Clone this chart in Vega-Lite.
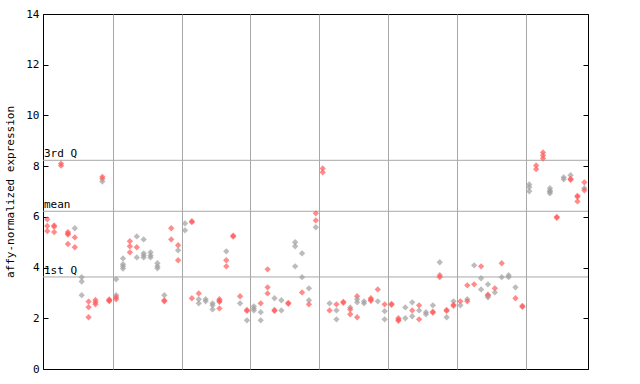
{
  "$schema": "https://vega.github.io/schema/vega-lite/v6.json",
  "width": 545,
  "height": 355,
  "autosize": {"type": "none"},
  "padding": {"left": 43, "top": 14, "right": 52, "bottom": 15},
  "background": "white",
  "config": {
    "view": {"stroke": "black", "strokeWidth": 1},
    "axis": {"labelFont": "DejaVu Sans Mono", "titleFont": "DejaVu Sans Mono", "labelColor": "black", "titleColor": "black", "tickColor": "black"}
  },
  "datasets": {
    "pts": [
      {"i":0,"v":5.90,"c":"r"},{"i":0,"v":5.64,"c":"r"},{"i":0,"v":5.44,"c":"r"},
      {"i":1,"v":5.66,"c":"r"},{"i":1,"v":5.61,"c":"r"},{"i":1,"v":5.40,"c":"r"},
      {"i":2,"v":8.10,"c":"r"},{"i":2,"v":8.02,"c":"r"},
      {"i":3,"v":5.40,"c":"r"},{"i":3,"v":5.34,"c":"r"},{"i":3,"v":5.30,"c":"r"},{"i":3,"v":4.93,"c":"r"},
      {"i":4,"v":5.55,"c":"g"},{"i":4,"v":5.19,"c":"r"},{"i":4,"v":4.80,"c":"r"},
      {"i":5,"v":3.62,"c":"g"},{"i":5,"v":3.45,"c":"g"},{"i":5,"v":2.91,"c":"g"},
      {"i":6,"v":2.66,"c":"r"},{"i":6,"v":2.44,"c":"r"},{"i":6,"v":2.04,"c":"r"},
      {"i":7,"v":2.72,"c":"r"},{"i":7,"v":2.63,"c":"r"},{"i":7,"v":2.55,"c":"r"},
      {"i":8,"v":7.58,"c":"r"},{"i":8,"v":7.50,"c":"r"},{"i":8,"v":7.39,"c":"g"},
      {"i":9,"v":2.74,"c":"r"},{"i":9,"v":2.68,"c":"r"},{"i":9,"v":2.70,"c":"r"},
      {"i":10,"v":3.54,"c":"g"},{"i":10,"v":2.91,"c":"g"},{"i":10,"v":2.83,"c":"r"},{"i":10,"v":2.75,"c":"r"},
      {"i":11,"v":4.36,"c":"g"},{"i":11,"v":4.13,"c":"g"},{"i":11,"v":4.05,"c":"g"},{"i":11,"v":3.96,"c":"g"},
      {"i":12,"v":5.04,"c":"r"},{"i":12,"v":4.84,"c":"r"},{"i":12,"v":4.60,"c":"r"},
      {"i":13,"v":5.23,"c":"g"},{"i":13,"v":4.80,"c":"r"},{"i":13,"v":4.40,"c":"g"},
      {"i":14,"v":5.11,"c":"g"},{"i":14,"v":4.56,"c":"g"},{"i":14,"v":4.48,"c":"g"},{"i":14,"v":4.40,"c":"g"},
      {"i":15,"v":4.60,"c":"g"},{"i":15,"v":4.48,"c":"g"},{"i":15,"v":4.40,"c":"g"},
      {"i":16,"v":4.17,"c":"g"},{"i":16,"v":4.05,"c":"g"},{"i":16,"v":3.97,"c":"g"},
      {"i":17,"v":2.91,"c":"g"},{"i":17,"v":2.71,"c":"r"},{"i":17,"v":2.67,"c":"r"},
      {"i":18,"v":5.55,"c":"r"},{"i":18,"v":5.11,"c":"r"},
      {"i":19,"v":4.88,"c":"r"},{"i":19,"v":4.68,"c":"g"},{"i":19,"v":4.29,"c":"r"},
      {"i":20,"v":5.74,"c":"g"},{"i":20,"v":5.47,"c":"g"},
      {"i":21,"v":5.83,"c":"r"},{"i":21,"v":5.79,"c":"r"},{"i":21,"v":2.79,"c":"r"},
      {"i":22,"v":2.98,"c":"r"},{"i":22,"v":2.75,"c":"g"},{"i":22,"v":2.59,"c":"g"},
      {"i":23,"v":2.75,"c":"g"},{"i":23,"v":2.67,"c":"g"},
      {"i":24,"v":2.59,"c":"g"},{"i":24,"v":2.51,"c":"g"},{"i":24,"v":2.35,"c":"g"},
      {"i":25,"v":2.75,"c":"r"},{"i":25,"v":2.69,"c":"r"},{"i":25,"v":2.65,"c":"r"},{"i":25,"v":2.39,"c":"r"},
      {"i":26,"v":4.64,"c":"g"},{"i":26,"v":4.29,"c":"r"},{"i":26,"v":4.05,"c":"r"},
      {"i":27,"v":5.26,"c":"r"},{"i":27,"v":5.22,"c":"r"},
      {"i":28,"v":2.87,"c":"r"},{"i":28,"v":2.59,"c":"g"},
      {"i":29,"v":2.33,"c":"r"},{"i":29,"v":2.29,"c":"r"},{"i":29,"v":1.92,"c":"g"},
      {"i":30,"v":2.47,"c":"g"},{"i":30,"v":2.39,"c":"g"},{"i":30,"v":2.31,"c":"g"},
      {"i":31,"v":2.59,"c":"r"},{"i":31,"v":2.24,"c":"g"},{"i":31,"v":1.92,"c":"g"},
      {"i":32,"v":3.93,"c":"r"},{"i":32,"v":3.22,"c":"r"},{"i":32,"v":2.98,"c":"r"},
      {"i":33,"v":2.79,"c":"g"},{"i":33,"v":2.33,"c":"r"},{"i":33,"v":2.29,"c":"r"},
      {"i":34,"v":2.71,"c":"g"},{"i":34,"v":2.31,"c":"g"},
      {"i":35,"v":2.61,"c":"r"},{"i":35,"v":2.57,"c":"r"},
      {"i":36,"v":5.00,"c":"g"},{"i":36,"v":4.84,"c":"g"},{"i":36,"v":4.05,"c":"g"},
      {"i":37,"v":4.56,"c":"g"},{"i":37,"v":3.62,"c":"g"},{"i":37,"v":3.02,"c":"r"},
      {"i":38,"v":3.18,"c":"g"},{"i":38,"v":2.71,"c":"g"},{"i":38,"v":2.55,"c":"r"},
      {"i":39,"v":6.14,"c":"r"},{"i":39,"v":5.86,"c":"r"},{"i":39,"v":5.59,"c":"g"},
      {"i":40,"v":7.91,"c":"r"},{"i":40,"v":7.76,"c":"r"},
      {"i":41,"v":2.59,"c":"g"},{"i":41,"v":2.31,"c":"r"},
      {"i":42,"v":2.55,"c":"r"},{"i":42,"v":2.31,"c":"g"},{"i":42,"v":1.96,"c":"g"},
      {"i":43,"v":2.65,"c":"r"},{"i":43,"v":2.61,"c":"r"},
      {"i":44,"v":2.43,"c":"g"},{"i":44,"v":2.35,"c":"r"},{"i":44,"v":2.16,"c":"r"},
      {"i":45,"v":2.87,"c":"r"},{"i":45,"v":2.75,"c":"g"},{"i":45,"v":2.63,"c":"g"},{"i":45,"v":2.04,"c":"r"},
      {"i":46,"v":2.67,"c":"g"},{"i":46,"v":2.59,"c":"g"},
      {"i":47,"v":2.79,"c":"r"},{"i":47,"v":2.73,"c":"r"},{"i":47,"v":2.69,"c":"r"},
      {"i":48,"v":3.14,"c":"r"},{"i":48,"v":2.67,"c":"g"},
      {"i":49,"v":2.55,"c":"r"},{"i":49,"v":2.28,"c":"g"},{"i":49,"v":1.96,"c":"g"},
      {"i":50,"v":2.57,"c":"r"},{"i":50,"v":2.53,"c":"r"},
      {"i":51,"v":2.00,"c":"r"},{"i":51,"v":1.94,"c":"r"},{"i":51,"v":1.90,"c":"r"},
      {"i":52,"v":2.43,"c":"g"},{"i":52,"v":2.00,"c":"g"},
      {"i":53,"v":2.63,"c":"g"},{"i":53,"v":2.31,"c":"r"},{"i":53,"v":2.08,"c":"g"},
      {"i":54,"v":2.51,"c":"r"},{"i":54,"v":2.31,"c":"g"},{"i":54,"v":1.96,"c":"r"},
      {"i":55,"v":2.24,"c":"g"},{"i":55,"v":2.16,"c":"g"},
      {"i":56,"v":2.51,"c":"g"},{"i":56,"v":2.26,"c":"r"},{"i":56,"v":2.22,"c":"r"},
      {"i":57,"v":4.21,"c":"g"},{"i":57,"v":3.70,"c":"r"},{"i":57,"v":3.62,"c":"r"},
      {"i":58,"v":2.33,"c":"r"},{"i":58,"v":2.29,"c":"r"},{"i":58,"v":2.04,"c":"g"},
      {"i":59,"v":2.67,"c":"g"},{"i":59,"v":2.53,"c":"r"},{"i":59,"v":2.49,"c":"r"},
      {"i":60,"v":2.67,"c":"r"},{"i":60,"v":2.51,"c":"g"},
      {"i":61,"v":3.30,"c":"r"},{"i":61,"v":2.75,"c":"g"},{"i":61,"v":2.67,"c":"r"},
      {"i":62,"v":4.09,"c":"g"},{"i":62,"v":3.34,"c":"r"},
      {"i":63,"v":4.05,"c":"r"},{"i":63,"v":3.58,"c":"g"},{"i":63,"v":3.14,"c":"g"},
      {"i":64,"v":3.34,"c":"g"},{"i":64,"v":2.93,"c":"r"},{"i":64,"v":2.89,"c":"r"},{"i":64,"v":2.83,"c":"g"},
      {"i":65,"v":3.18,"c":"r"},{"i":65,"v":3.02,"c":"g"},
      {"i":66,"v":4.17,"c":"r"},{"i":66,"v":3.62,"c":"g"},
      {"i":67,"v":3.70,"c":"g"},{"i":67,"v":3.62,"c":"g"},
      {"i":68,"v":3.22,"c":"g"},{"i":68,"v":2.79,"c":"r"},
      {"i":69,"v":2.49,"c":"r"},{"i":69,"v":2.45,"c":"r"},
      {"i":70,"v":7.28,"c":"g"},{"i":70,"v":7.17,"c":"g"},{"i":70,"v":7.01,"c":"g"},
      {"i":71,"v":8.03,"c":"r"},{"i":71,"v":7.88,"c":"r"},
      {"i":72,"v":8.54,"c":"r"},{"i":72,"v":8.42,"c":"r"},{"i":72,"v":8.30,"c":"r"},
      {"i":73,"v":7.13,"c":"g"},{"i":73,"v":7.03,"c":"g"},{"i":73,"v":6.99,"c":"g"},{"i":73,"v":6.93,"c":"g"},
      {"i":74,"v":6.00,"c":"r"},{"i":74,"v":5.96,"c":"r"},
      {"i":75,"v":7.56,"c":"g"},{"i":75,"v":7.48,"c":"g"},
      {"i":76,"v":7.64,"c":"g"},{"i":76,"v":7.50,"c":"r"},{"i":76,"v":7.46,"c":"r"},
      {"i":77,"v":6.83,"c":"r"},{"i":77,"v":6.79,"c":"r"},{"i":77,"v":6.61,"c":"r"},
      {"i":78,"v":7.36,"c":"r"},{"i":78,"v":7.13,"c":"g"},{"i":78,"v":7.05,"c":"r"}
    ],
    "quart": [
      {"lab": "3rd Q", "v": 8.23},
      {"lab": "mean", "v": 6.22},
      {"lab": "1st Q", "v": 3.63}
    ]
  },
  "layer": [
    {
      "data": {"name": "quart"},
      "mark": {"type": "rule", "color": "#a8a8a8", "strokeWidth": 1},
      "encoding": {
        "y": {"field": "v", "type": "quantitative",
              "scale": {"domain": [0, 14], "nice": false, "zero": false},
              "axis": {"orient": "left", "values": [0,2,4,6,8,10,12,14], "ticks": false, "labelPadding": 4, "labelFontSize": 11, "domain": false, "grid": false, "title": "affy-normalized expression", "titleFontSize": 11, "titleFontWeight": "normal", "titlePadding": 10}}
      }
    },
    {
      "data": {"name": "quart"},
      "mark": {"type": "text", "align": "left", "baseline": "bottom", "dx": 1, "dy": -1, "font": "DejaVu Sans Mono", "fontSize": 11, "color": "black"},
      "encoding": {
        "x": {"datum": -0.62, "type": "quantitative", "scale": {"domain": [-0.62, 78.53], "nice": false, "zero": false}, "axis": null},
        "y": {"field": "v", "type": "quantitative", "scale": {"domain": [0, 14], "nice": false, "zero": false},
              "axis": {"orient": "right", "offset": -545, "values": [0,2,4,6,8,10,12,14], "labels": false, "tickSize": 5, "domain": false, "grid": false, "title": null}},
        "text": {"field": "lab"}
      }
    },
    {
      "data": {"name": "pts"},
      "mark": {"type": "point", "shape": "diamond", "filled": true, "size": 40, "opacity": 0.7},
      "encoding": {
        "x": {"field": "i", "type": "quantitative",
              "scale": {"domain": [-0.62, 78.53], "nice": false, "zero": false},
              "axis": {"orient": "bottom", "values": [9.5,19.5,29.5,39.5,49.5,59.5,69.5], "grid": true, "gridColor": "#a8a8a8", "gridOpacity": 1, "ticks": false, "labels": false, "domain": false, "title": null}},
        "y": {"field": "v", "type": "quantitative",
              "scale": {"domain": [0, 14], "nice": false, "zero": false},
              "axis": {"orient": "left", "offset": -545, "values": [0,2,4,6,8,10,12,14], "labels": false, "tickSize": 5, "domain": false, "grid": false, "title": null}},
        "color": {"field": "c", "type": "nominal", "scale": {"domain": ["g", "r"], "range": ["#a0a0a0", "#ff5a5a"]}, "legend": null}
      }
    }
  ],
  "resolve": {"axis": {"y": "independent", "x": "independent"}}
}
